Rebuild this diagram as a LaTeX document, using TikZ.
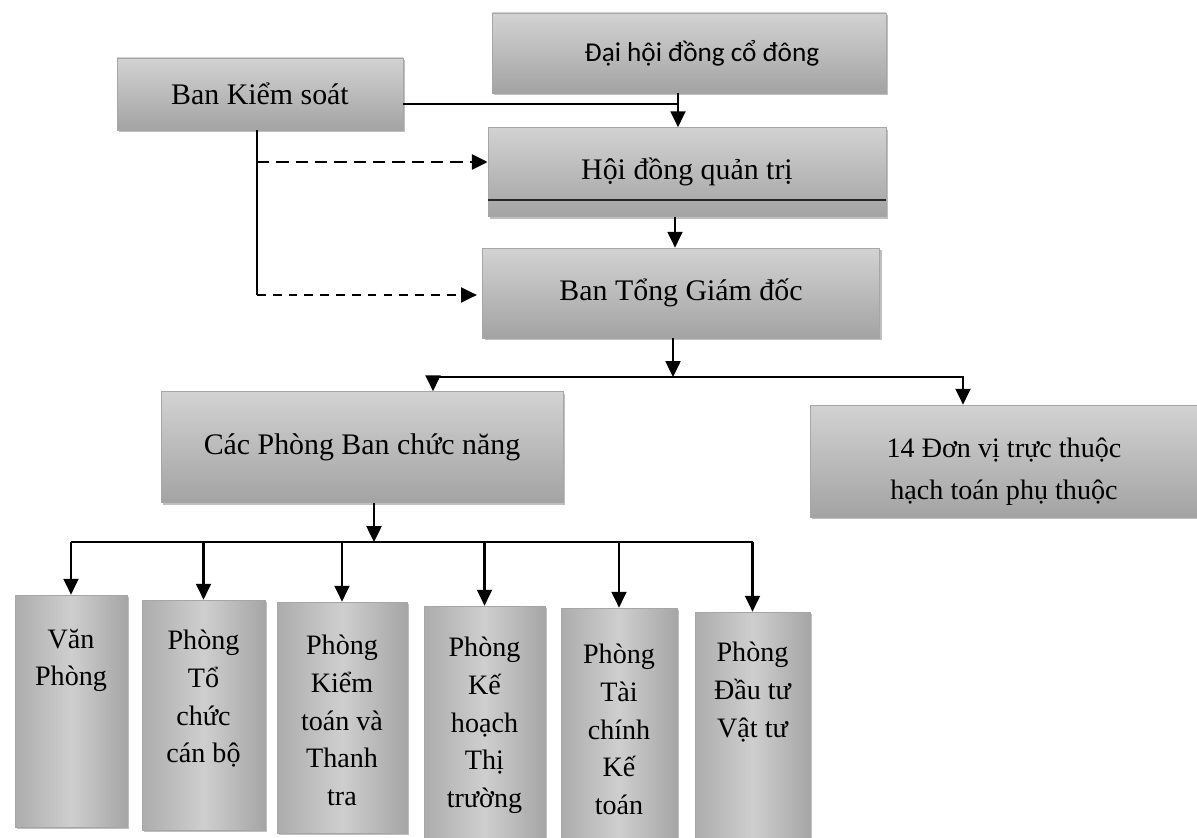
\documentclass[tikz,border=0pt]{standalone}
\usepackage{fontspec}
\setmainfont{Liberation Serif}
\newfontfamily\calibrifont{Carlito}
\usetikzlibrary{arrows.meta,shadows}
\newlength\pxu
\setlength\pxu{0.02cm}
\newcommand{\vtext}[5]{\begin{minipage}[t][#2\pxu][t]{#1\pxu}\centering#5\vspace*{#3\pxu}#4\end{minipage}}
\begin{document}
\begin{tikzpicture}[x=0.02cm,y=-0.02cm,
  sz/.style 2 args={minimum width=#1*0.02cm, minimum height=#2*0.02cm},
  hbox/.style={draw=gray!70, top color=gray!35, bottom color=gray!72, inner sep=0pt,
    drop shadow={shadow xshift=1.3pt, shadow yshift=-1.3pt, opacity=0.5}},
  vbox/.style={draw=gray!70, left color=gray!65, right color=gray!70, middle color=gray!38, inner sep=0pt,
    drop shadow={shadow xshift=1.3pt, shadow yshift=-1.3pt, opacity=0.5}},
  ttl/.style={font=\fontsize{17}{20}\selectfont},
  tip/.style={-{Triangle[length=9pt,width=8.5pt]}},
  conn/.style={line width=1.2pt, draw=black},
  arr/.style={conn, tip},
  arrtwo/.style={conn, {Triangle[length=9pt,width=8.5pt]}-{Triangle[length=9pt,width=8.5pt]}},
  dashone/.style={line width=1.6pt, dash pattern=on 7pt off 4pt, tip},
  dashtwo/.style={line width=1.2pt, dash pattern=on 5pt off 4pt, tip},
]
\useasboundingbox (0,0) rectangle (1197,838);

% top boxes
\node[hbox, sz={286}{72}, ttl] (bks) at (260,94) {Ban Kiểm soát};
\node[hbox, sz={394}{80}, font=\calibrifont\fontsize{15.5}{18}\selectfont] (dh) at (689,53) {\hspace*{26\pxu}Đại hội đồng cổ đông};
\node[hbox, sz={398}{89}, ttl] (hd) at (687,172) {Hội đồng quản trị};
\draw[black!85, line width=0.8pt] ([yshift=0.34cm]hd.south west) -- ([yshift=0.34cm]hd.south east);
\node[hbox, sz={397}{90}, ttl] (bt) at (681,293) {Ban Tổng Giám đốc};
\node[hbox, sz={402}{111}, ttl] (cp) at (362,447) {Các Phòng Ban chức năng};
\node[hbox, sz={388}{112}] (dv) at (1004,461)
  {\vtext{388}{112}{33}{14 Đơn vị trực thuộc\\hạch toán phụ thuộc}{\fontsize{16}{24}\selectfont}};

% bottom boxes
\node[vbox, sz={112}{232}] (b1) at (71,711)
  {\vtext{112}{232}{34}{Văn\\Phòng}{\fontsize{16}{21.5}\selectfont}};
\node[vbox, sz={123}{230}] (b2) at (203.5,715)
  {\vtext{123}{230}{30}{Phòng\\Tổ\\chức\\cán bộ}{\fontsize{16}{21.5}\selectfont}};
\node[vbox, sz={130}{231}] (b3) at (342,717.5)
  {\vtext{130}{231}{33}{Phòng\\Kiểm\\toán và\\Thanh\\tra}{\fontsize{16}{21.5}\selectfont}};
\node[vbox, sz={121}{232}] (b4) at (484.5,722)
  {\vtext{121}{232}{31}{Phòng\\Kế\\hoạch\\Thị\\trường}{\fontsize{16}{21.5}\selectfont}};
\node[vbox, sz={116}{232}] (b5) at (619,724)
  {\vtext{116}{232}{36}{Phòng\\Tài\\chính\\Kế\\toán}{\fontsize{16}{21.5}\selectfont}};
\node[vbox, sz={115}{230}] (b6) at (752.5,727)
  {\vtext{115}{230}{30}{Phòng\\Đầu tư\\Vật tư}{\fontsize{16}{21.5}\selectfont}};

% connectors, top
\coordinate (j1) at (678,104);
\draw[arr] (dh.south -| j1) -- (hd.north -| j1);
\draw[conn] (bks.east |- j1) -- (j1);
\coordinate (k) at (257,295);
\coordinate (k1) at (257,162);
\draw[line width=1pt] (bks.south -| k) -- (k);
\draw[dashone] (k1) -- (k1 -| hd.west);
\draw[dashtwo] (k) -- ([xshift=-3pt]k -| bt.west);
\coordinate (m) at (675,0);
\draw[arr] (hd.south -| m) -- (bt.north -| m);

% upper bus
\coordinate (u) at (673,377);
\coordinate (ul) at (433,377);
\coordinate (ur) at (963,377);
\draw[arr] (bt.south -| u) -- (u);
\draw[arrtwo] (cp.north -| ul) -- (ul) -- (ur) -- (dv.north -| ur);

% lower bus
\coordinate (lb) at (374,542);
\draw[arr] (cp.south -| lb) -- (lb);
\draw[conn] (lb -| b1) -- (lb -| b6);
\foreach \i in {1,...,6} \draw[arr] (lb -| b\i) -- (b\i.north);
\end{tikzpicture}
\end{document}
